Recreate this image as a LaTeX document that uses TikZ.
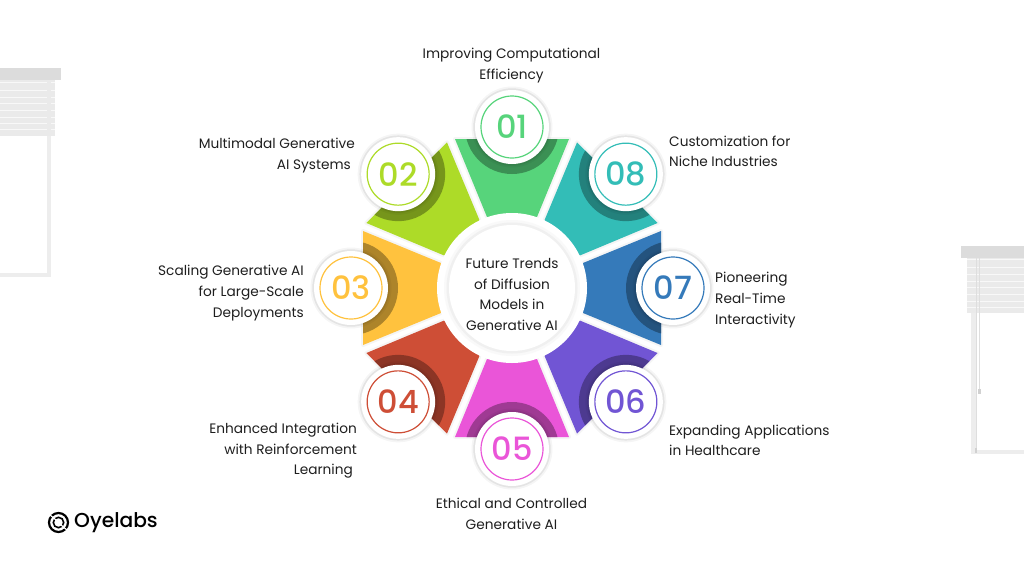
\documentclass[tikz,border=0pt]{standalone}
\usepackage{fontspec}
\setmainfont{Poppins}
\newfontfamily\numfont{Poppins Medium}
\definecolor{c1}{HTML}{57D47B}\definecolor{c2}{HTML}{ADDB28}\definecolor{c3}{HTML}{FFC23E}\definecolor{c4}{HTML}{CE4E36}
\definecolor{c5}{HTML}{EA55D8}\definecolor{c6}{HTML}{7155D4}\definecolor{c7}{HTML}{357ABA}\definecolor{c8}{HTML}{33BDB7}
\definecolor{txt}{HTML}{1E1E1E}
\definecolor{blindcap}{HTML}{DCDCDC}\definecolor{blindslat}{HTML}{EAEAEA}\definecolor{blindframe}{HTML}{EDEDED}
\tikzset{
  lbl/.style={inner sep=0pt,text=txt,font=\fontsize{13.7}{20.9}\selectfont},
  badge/.style={circle,fill=white,inner sep=0pt,minimum size=74pt},
  numring/.style={circle,draw=#1,line width=1.2pt,text=#1,fill=white,inner sep=0pt,minimum size=62pt,font=\numfont\fontsize{32}{32}\selectfont},
}
\begin{document}
\begin{tikzpicture}[x=1pt,y=-1pt]
\useasboundingbox (0,0) rectangle (1024,576);
% left window
\fill[blindframe] (47,80) rectangle (51,277);
\fill[blindframe] (0,273) rectangle (51,277);
\fill[blindslat] (0,80) rectangle (55,136);
\foreach \y in {82,90,97,103,110,117,123,129}{
  \fill[white,opacity=.7] (0,\y) rectangle (47,\y+0.9);
  \fill[white,opacity=.7] (51,\y) rectangle (55,\y+0.9);
}
\fill[blindcap] (0,68) rectangle (61,80);
% right window
\fill[blindframe] (971,258) rectangle (976,454);
\fill[blindframe] (971,450) rectangle (1024,454);
\fill[blindslat] (967,258) rectangle (1024,313);
\foreach \y in {259,267,274,281,287,294,301,307}{
  \fill[white,opacity=.7] (967,\y) rectangle (1024,\y+0.9);
}
\fill[black!13] (975.5,258) rectangle (976.3,450);
\fill[black!13] (979,258) rectangle (980,390);
\fill[black!18] (978.2,389) rectangle (980.8,393.5);
\fill[black!18] (974.6,448) rectangle (977.2,453);
\fill[blindcap] (961,246) rectangle (1024,258);
% segments
\foreach \i/\c in {1/c1,2/c2,3/c3,4/c4,5/c5,6/c6,7/c7,8/c8}{
  \begin{scope}[shift={(512,288)},rotate={45*(\i-1)}]
    \draw[black!4,line width=4pt,line join=round] (-57,-149)--(57,-149)--(25,-71)--(-25,-71)--cycle;
    \fill[\c] (-57,-149)--(57,-149)--(25,-71)--(-25,-71)--cycle;
    \begin{scope}
      \clip (-57,-149)--(57,-149)--(25,-71)--(-25,-71)--cycle;
      \fill[\c!68!black] (0,-161) circle[radius=47pt];
    \end{scope}
  \end{scope}
}
% centre disc
\fill[white] (512,288) circle[radius=75pt];
\fill[black!2.5] (512,288) circle[radius=68pt];
\fill[black!6] (512,288) circle[radius=65.5pt];
\node[circle,fill=white,inner sep=0pt,minimum size=126pt] (hub) at (512,288) {};
\node[lbl,align=center] (hubtext) at (512,294.5) {Future Trends\\of Diffusion\\Models in\\Generative AI};
% badges
\foreach \i/\c/\n in {1/c1/01,2/c2/02,3/c3/03,4/c4/04,5/c5/05,6/c6/06,7/c7/07,8/c8/08}{
  \begin{scope}[shift={(512,288)},rotate={45*(\i-1)}]
    \fill[black,opacity=.04] (0,-161) circle[radius=40.5pt];
    \fill[black,opacity=.07] (0,-161) circle[radius=38.7pt];
    \node[badge] (b\n) at (0,-161) {};
    \node[numring=\c] (n\n) at (0,-161) {\n};
  \end{scope}
}
% labels
\node[lbl,align=center] (t1) at (511.5,65.7) {Improving Computational\\Efficiency};
\node[lbl,align=right,anchor=east] (t2) at (355,155.7) {Multimodal Generative\\AI Systems\hspace*{4pt}};
\node[lbl,align=right,anchor=east] (t3) at (304,292.7) {Scaling Generative AI\\for Large-Scale\\Deployments};
\node[lbl,align=right,anchor=east] (t4) at (357,450.7) {Enhanced Integration\\with Reinforcement\\Learning\hspace*{4pt}};
\node[lbl,align=center] (t5) at (511.5,513.7) {Ethical and Controlled\\Generative AI};
\node[lbl,align=left,anchor=west] (t6) at (669,440.3) {Expanding Applications\\in Healthcare};
\node[lbl,align=left,anchor=west] (t7) at (715,299.7) {Pioneering\\Real-Time\\Interactivity};
\node[lbl,align=left,anchor=west] (t8) at (669,151.3) {Customization for\\Niche Industries};
% logo
\draw[black,line width=2.2pt] (58.5,522.5) circle[radius=9.5pt];
\draw[black,line width=1.6pt] (58.5,522.5) circle[radius=5.2pt];
\draw[white,line width=1.2pt] (50,515) -- (56,520);
\draw[white,line width=1.2pt] (67,530) -- (61,525);
\node[inner sep=0pt,anchor=west,text=black,font=\numfont\fontsize{20.2}{24}\selectfont] (logo) at (74,522.5) {Oyelabs};
\end{tikzpicture}
\end{document}
